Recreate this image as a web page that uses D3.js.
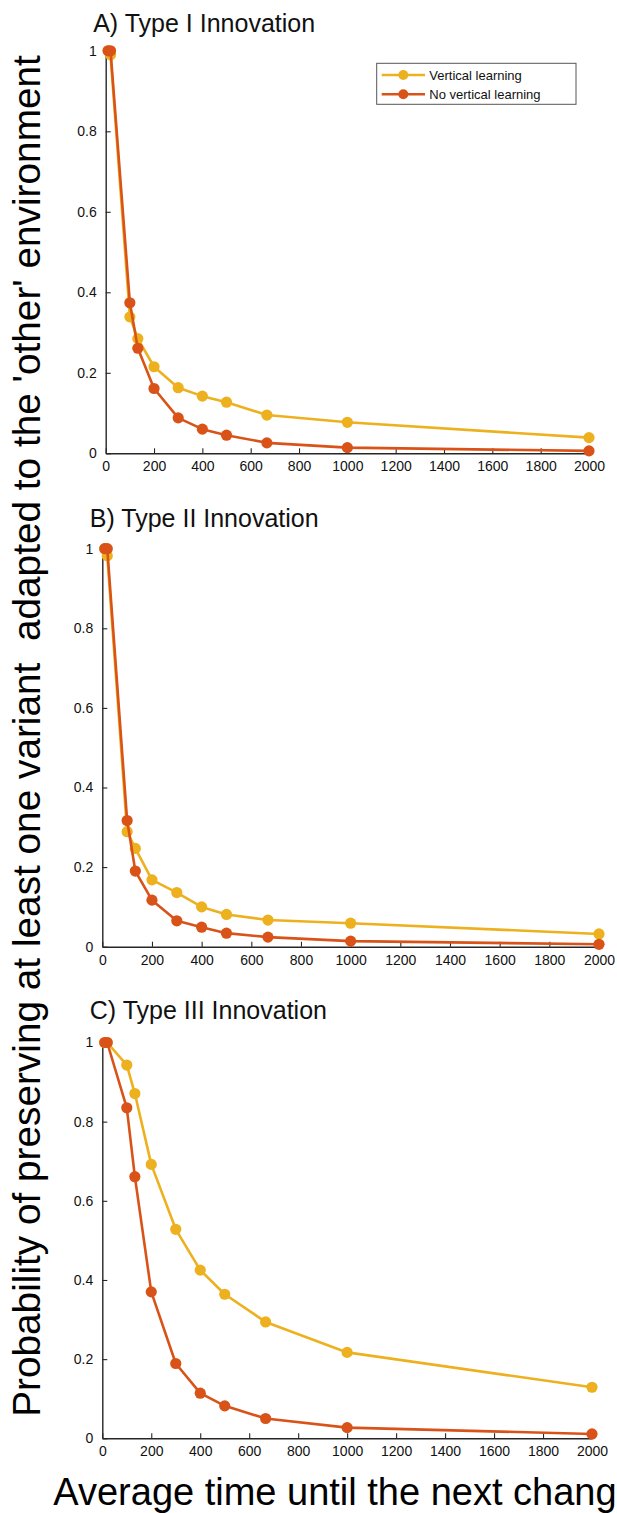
<!DOCTYPE html>
<html>
<head>
<meta charset="utf-8">
<script src="https://cdn.jsdelivr.net/npm/d3@7/dist/d3.min.js"></script>
<style>
  html, body { margin: 0; padding: 0; background: #fff; }
  svg { display: block; }
  text { font-family: "Liberation Sans", Arial, Helvetica, sans-serif; }
</style>
</head>
<body>
<svg id="chart" width="617" height="1513"></svg>
<script>
// ---------- data ----------
const xValues = [10, 20, 100, 133, 200, 300, 400, 500, 667, 1000, 2000];

const typeIVertical   = [1.0, 0.99, 0.339, 0.285, 0.215, 0.163, 0.142, 0.127, 0.095, 0.077, 0.039];
const typeINoVertical = [1.0, 1.0, 0.374, 0.261, 0.161, 0.088, 0.060, 0.045, 0.026, 0.014, 0.006];

const typeIIVertical   = [1.0, 0.982, 0.289, 0.247, 0.168, 0.136, 0.100, 0.081, 0.067, 0.059, 0.032];
const typeIINoVertical = [1.0, 1.0, 0.317, 0.190, 0.117, 0.065, 0.049, 0.034, 0.024, 0.014, 0.006];

const typeIIIVertical   = [1.0, 1.0, 0.943, 0.871, 0.692, 0.528, 0.425, 0.364, 0.294, 0.217, 0.129];
const typeIIINoVertical = [1.0, 1.0, 0.835, 0.661, 0.370, 0.189, 0.114, 0.082, 0.050, 0.027, 0.011];

const xTicks = [0, 200, 400, 600, 800, 1000, 1200, 1400, 1600, 1800, 2000];
const yTicks = [0, 0.2, 0.4, 0.6, 0.8, 1];
const yTickLabels = ["0", "0.2", "0.4", "0.6", "0.8", "1"];

const panelTitles = ["A) Type I Innovation", "B) Type II Innovation", "C) Type III Innovation"];
const seriesNames = ["Vertical learning", "No vertical learning"];
const yAxisLabel = "Probability of preserving at least one variant  adapted to the 'other' environment";
const xAxisLabel = "Average time until the next change";

// ---------- layout ----------
const colors = ["#EDB120", "#D95319"];
const axisColor = "#262626";

const panels = [
  { title: panelTitles[0], series: [typeIVertical, typeINoVertical],   x0: 105.7, x1: 589, yb: 453.3, yt: 50.8, titleY: 32, legend: true },
  { title: panelTitles[1], series: [typeIIVertical, typeIINoVertical], x0: 102.3, x1: 599, yb: 946.7, yt: 548.7, titleY: 527, legend: false },
  { title: panelTitles[2], series: [typeIIIVertical, typeIIINoVertical], x0: 102.3, x1: 592, yb: 1438.3, yt: 1042.5, titleY: 1019, legend: false }
];

const svg = d3.select("#chart");

panels.forEach(p => {
  const x = d3.scaleLinear().domain([0, 2000]).range([p.x0, p.x1]);
  const y = d3.scaleLinear().domain([0, 1]).range([p.yb, p.yt]);
  const g = svg.append("g");

  // axes
  const xAxis = d3.axisBottom(x).tickValues(xTicks).tickFormat(d => String(d))
    .tickSize(-5).tickSizeOuter(0).tickPadding(8);
  const yAxis = d3.axisLeft(y).tickValues(yTicks).tickFormat((d, i) => yTickLabels[i])
    .tickSize(-5).tickSizeOuter(0).tickPadding(9);

  const gx = g.append("g").attr("transform", `translate(0,${p.yb})`).call(xAxis);
  const gy = g.append("g").attr("transform", `translate(${p.x0},0)`).call(yAxis);
  [gx, gy].forEach(a => {
    a.select(".domain").attr("stroke", axisColor).attr("stroke-width", 1.4);
    a.selectAll(".tick line").attr("stroke", axisColor).attr("stroke-width", 1.1);
    a.selectAll(".tick text").attr("fill", "#111").style("font-size", "14px")
      .style("font-family", '"Liberation Sans", Arial, sans-serif');
  });

  // title
  g.append("text").attr("x", p.x0 - 12.5).attr("y", p.titleY)
    .attr("fill", "#111").style("font-size", "25px").text(p.title);

  // series
  const line = d3.line().x((d, i) => x(xValues[i])).y(d => y(d));
  p.series.forEach((s, si) => {
    g.append("path").datum(s).attr("d", line)
      .attr("fill", "none").attr("stroke", colors[si]).attr("stroke-width", 2.6)
      .attr("stroke-linejoin", "round");
    g.selectAll(null).data(s).enter().append("circle")
      .attr("cx", (d, i) => x(xValues[i])).attr("cy", d => y(d)).attr("r", 5.6)
      .attr("fill", colors[si]);
  });

  // legend
  if (p.legend) {
    const lg = g.append("g");
    lg.append("rect").attr("x", 376.7).attr("y", 63.3).attr("width", 199.3).attr("height", 41)
      .attr("fill", "#fff").attr("stroke", "#555").attr("stroke-width", 1);
    seriesNames.forEach((name, i) => {
      const yy = 75 + i * 19.3;
      lg.append("line").attr("x1", 381.7).attr("x2", 425).attr("y1", yy).attr("y2", yy)
        .attr("stroke", colors[i]).attr("stroke-width", 2.6);
      lg.append("circle").attr("cx", 403.3).attr("cy", yy).attr("r", 5).attr("fill", colors[i]);
      lg.append("text").attr("x", 429.3).attr("y", yy).attr("dy", "0.36em")
        .attr("fill", "#111").style("font-size", "13px").text(name);
    });
  }
});

// y-axis label (rotated), fitted to span the measured height
const yl = svg.append("text")
  .attr("text-anchor", "middle")
  .attr("transform", "translate(40,736) rotate(-90)")
  .attr("fill", "#000")
  .style("font-size", "34px")
  .style("white-space", "pre")
  .attr("xml:space", "preserve")
  .text(yAxisLabel);
const targetLen = 1362;
const len = yl.node().getComputedTextLength();
if (len > 0) yl.style("font-size", (34 * targetLen / len).toFixed(2) + "px");

// x-axis label
svg.append("text")
  .attr("x", 53.3).attr("y", 1505)
  .attr("fill", "#000")
  .style("font-size", "38px")
  .text(xAxisLabel);
</script>
</body>
</html>
